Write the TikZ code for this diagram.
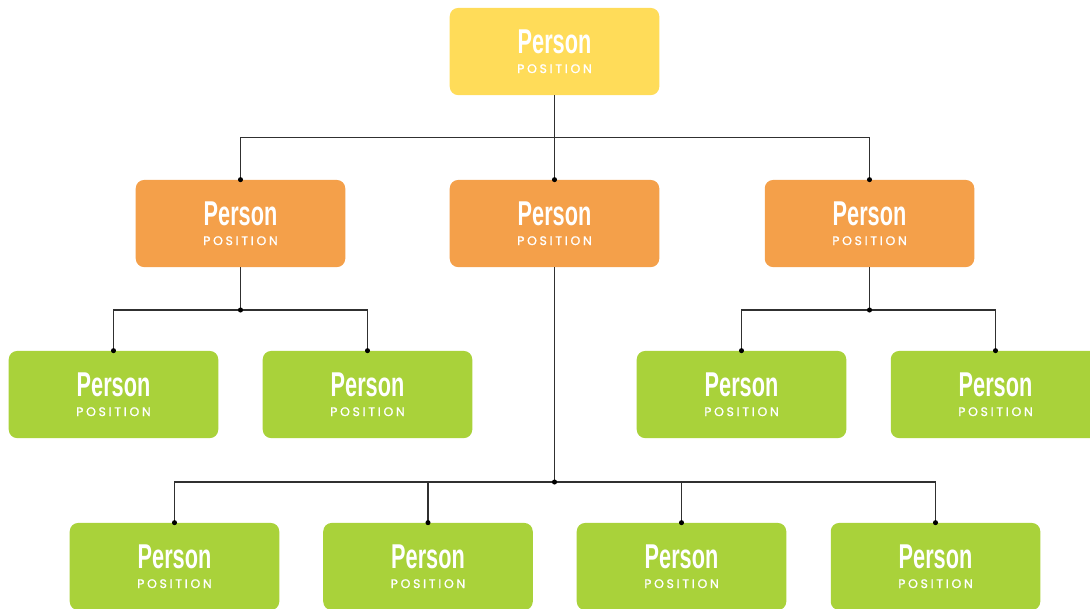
\documentclass[tikz,border=0pt]{standalone}
\usepackage{fontspec}
\usepackage{tikz}
\usetikzlibrary{positioning,calc}
\newfontfamily\namefont{Liberation Sans}[FakeStretch=0.63]
\newfontfamily\posfont{Poppins}[LetterSpace=22, FakeBold=1.2]
\definecolor{cTop}{HTML}{FFDC59}
\definecolor{cMid}{HTML}{F4A04A}
\definecolor{cLow}{HTML}{A9D23A}
\definecolor{cLine}{HTML}{303030}

\tikzset{
  box/.style={rounded corners=6pt, minimum width=149pt, minimum height=62pt, inner sep=0pt},
  nametext/.style={text=white, font=\namefont\bfseries\fontsize{24.5}{25}\selectfont, inner sep=0pt},
  postext/.style={text=white, font=\posfont\fontsize{8.8}{9}\selectfont, inner sep=0pt},
  link/.style={cLine, line width=0.8pt},
}
% one box: name, centre, colour
\newcommand{\personbox}[3]{%
  \node[box, fill=#3] (#1) at (#2) {};
  \node[nametext, anchor=base] (#1-n) at ([yshift=-1.2pt]#1.center) {Person};
  \node[postext, anchor=base] (#1-p) at ([yshift=-15.3pt]#1.center) {POSITION};
}

\begin{document}
\begin{tikzpicture}[x=0.025cm, y=-0.025cm]
  \useasboundingbox (0,0) rectangle (1090,608);
  \clip (0,0) rectangle (1090,608);

  % boxes
  \personbox{top}{554.5,51.5}{cTop}
  \personbox{mA}{240.5,223.5}{cMid}
  \personbox{mB}{554.5,223.5}{cMid}
  \personbox{mC}{869.5,223.5}{cMid}
  \personbox{lA}{113.5,394.5}{cLow}
  \personbox{lB}{367.5,394.5}{cLow}
  \personbox{lC}{741.5,394.5}{cLow}
  \personbox{lD}{995.5,394.5}{cLow}
  \personbox{bA}{174.5,566.5}{cLow}
  \personbox{bB}{428,566.5}{cLow}
  \personbox{bC}{681.5,566.5}{cLow}
  \personbox{bD}{935.5,566.5}{cLow}

  % junctions
  \coordinate (jTop) at (554.5,137.5);
  \coordinate (jA) at (240.5,310);
  \coordinate (jC) at (869.5,310);
  \coordinate (jB) at (554.5,482);

  % connectors
  \draw[link] (top.south) -- (mB.north);
  \draw[link] (mA.north) |- (jTop) -| (mC.north);

  \draw[link] (mA.south) -- (jA);
  \draw[link] (lA.north) |- (jA) -| (lB.north);
  \draw[link] (mC.south) -- (jC);
  \draw[link] (lC.north) |- (jC) -| (lD.north);

  \draw[link] (mB.south) -- (jB);
  \draw[link] (bA.north) |- (jB) -| (bD.north);
  \draw[link] (bB.north) -- (bB.north |- jB);
  \draw[link] (bC.north) -- (bC.north |- jB);

  % dots
  \foreach \p in {mA.north, mB.north, mC.north, jA, jC, jB,
                  lA.north, lB.north, lC.north, lD.north,
                  bA.north, bB.north, bC.north, bD.north}
    \fill[black] (\p) circle (1.8pt);
\end{tikzpicture}
\end{document}
